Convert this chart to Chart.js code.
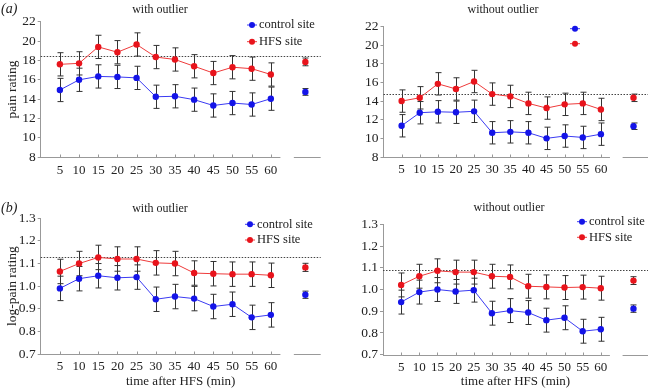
<!DOCTYPE html>
<html>
<head>
<meta charset="utf-8">
<script src="https://cdn.jsdelivr.net/npm/chart.js@4"></script>
<style>
  body { margin: 0; background: #fff; }
  #wrap { position: relative; width: 652px; height: 389px; }
  canvas { position: absolute; }
</style>
</head>
<body>
<div id="wrap">
  <canvas id="aWith" width="326" height="190" style="left:0;top:0"></canvas>
  <canvas id="aWithout" width="326" height="190" style="left:326px;top:0"></canvas>
  <canvas id="bWith" width="326" height="199" style="left:0;top:190px"></canvas>
  <canvas id="bWithout" width="326" height="199" style="left:326px;top:190px"></canvas>
</div>
<script>
// time points (min) and x tick labels
const times = [5, 10, 15, 20, 25, 30, 35, 40, 45, 50, 55, 60];
const overallX = 69; // where the overall mean sits, right of the axis break

// (a) pain rating, with outlier
const aWithCtrl = [14.95, 16.0, 16.35, 16.3, 16.2, 14.25, 14.3, 13.95, 13.35, 13.6, 13.45, 14.05];
const aWithCtrlErr = [1.2, 1.2, 1.2, 1.2, 1.2, 1.2, 1.2, 1.2, 1.2, 1.2, 1.2, 1.2];
const aWithHfs = [17.6, 17.7, 19.4, 18.85, 19.65, 18.35, 18.1, 17.4, 16.7, 17.3, 17.15, 16.55];
const aWithHfsErr = [1.2, 1.2, 1.2, 1.2, 1.2, 1.2, 1.2, 1.2, 1.2, 1.2, 1.2, 1.2];
const aWithMeans = [14.75, 17.85]; // control, HFS
const aWithMeansErr = [0.35, 0.4];

// (a) pain rating, without outlier
const aNoCtrl = [11.35, 12.75, 12.85, 12.8, 12.9, 10.6, 10.7, 10.6, 10.0, 10.25, 10.1, 10.45];
const aNoCtrlErr = [1.2, 1.2, 1.2, 1.2, 1.2, 1.2, 1.2, 1.2, 1.2, 1.2, 1.2, 1.2];
const aNoHfs = [14.0, 14.35, 15.85, 15.3, 16.1, 14.75, 14.5, 13.75, 13.25, 13.65, 13.75, 13.1];
const aNoHfsErr = [1.2, 1.2, 1.2, 1.2, 1.2, 1.2, 1.2, 1.2, 1.2, 1.2, 1.2, 1.2];
const aNoMeans = [11.3, 14.35];
const aNoMeansErr = [0.35, 0.4];

// (b) log-pain rating, with outlier
const bWithCtrl = [0.99, 1.033, 1.046, 1.037, 1.04, 0.942, 0.954, 0.945, 0.91, 0.92, 0.862, 0.873];
const bWithCtrlErr = [0.054, 0.054, 0.054, 0.054, 0.054, 0.054, 0.054, 0.054, 0.054, 0.054, 0.054, 0.054];
const bWithHfs = [1.065, 1.10, 1.127, 1.12, 1.12, 1.103, 1.10, 1.058, 1.055, 1.053, 1.053, 1.048];
const bWithHfsErr = [0.054, 0.054, 0.054, 0.054, 0.054, 0.054, 0.054, 0.054, 0.054, 0.054, 0.054, 0.054];
const bWithMeans = [0.962, 1.083];
const bWithMeansErr = [0.016, 0.018];

// (b) log-pain rating, without outlier
const bNoCtrl = [0.942, 0.988, 1.0, 0.991, 0.997, 0.891, 0.903, 0.894, 0.859, 0.87, 0.808, 0.817];
const bNoCtrlErr = [0.055, 0.055, 0.055, 0.055, 0.055, 0.055, 0.055, 0.055, 0.055, 0.055, 0.055, 0.055];
const bNoHfs = [1.021, 1.061, 1.086, 1.08, 1.08, 1.061, 1.058, 1.015, 1.012, 1.009, 1.011, 1.006];
const bNoHfsErr = [0.055, 0.055, 0.055, 0.055, 0.055, 0.055, 0.055, 0.055, 0.055, 0.055, 0.055, 0.055];
const bNoMeans = [0.912, 1.041];
const bNoMeansErr = [0.017, 0.018];

// dotted reference lines
const refLines = [18.45, 14.8, 1.13, 1.092];

const seriesNames = ["control site", "HFS site"];
const BLUE = "#1414e8", BLUE_LINE = "#3a3af2";
const RED = "#e8141c", RED_LINE = "#ee3a3a";
const SERIF = "'Liberation Serif', 'DejaVu Serif', serif";

Chart.defaults.font.family = SERIF;
Chart.defaults.color = "#222";

// error bars, dotted line, broken x axis, titles and legend
const decor = {
  id: "decor",
  beforeDatasetsDraw(chart, args, o) {
    const ctx = chart.ctx, ya = chart.scales.y, area = chart.chartArea;
    ctx.save();
    // dotted reference line
    ctx.strokeStyle = "#444";
    ctx.lineWidth = 1;
    ctx.setLineDash([1.5, 1.5]);
    const ry = Math.round(ya.getPixelForValue(o.ref)) + 0.5;
    ctx.beginPath();
    ctx.moveTo(area.left, ry);
    ctx.lineTo(area.right, ry);
    ctx.stroke();
    ctx.setLineDash([]);
    // error bars
    ctx.strokeStyle = "#333";
    chart.data.datasets.forEach((ds, di) => {
      const meta = chart.getDatasetMeta(di);
      meta.data.forEach((pt, i) => {
        const v = ds.data[i].y, e = ds.err[i];
        const x = Math.round(pt.x) + 0.5;
        const y1 = ya.getPixelForValue(v + e), y2 = ya.getPixelForValue(v - e);
        ctx.beginPath();
        ctx.moveTo(x, y1); ctx.lineTo(x, y2);
        ctx.moveTo(x - 3, y1); ctx.lineTo(x + 3, y1);
        ctx.moveTo(x - 3, y2); ctx.lineTo(x + 3, y2);
        ctx.stroke();
      });
    });
    ctx.restore();
  },
  afterDraw(chart, args, o) {
    const ctx = chart.ctx, xa = chart.scales.x, area = chart.chartArea;
    ctx.save();
    // x axis with a break before the overall mean
    const yb = Math.round(area.bottom) + 0.5;
    ctx.strokeStyle = "#999";
    ctx.lineWidth = 1;
    ctx.beginPath();
    ctx.moveTo(area.left, yb); ctx.lineTo(xa.getPixelForValue(62.5), yb);
    ctx.moveTo(xa.getPixelForValue(66), yb); ctx.lineTo(area.right, yb);
    times.forEach(t => {
      const x = Math.round(xa.getPixelForValue(t)) + 0.5;
      ctx.moveTo(x, yb); ctx.lineTo(x, yb - 3);
    });
    ctx.stroke();
    // panel title and letter
    ctx.fillStyle = "#222";
    ctx.textBaseline = "middle";
    ctx.font = "12px " + SERIF;
    ctx.textAlign = "center";
    ctx.fillText(o.title, o.titleX, o.titleY);
    if (o.letter) {
      ctx.textAlign = "left";
      ctx.font = "italic 14px " + SERIF;
      ctx.fillText(o.letter, 1, o.titleY);
    }
    // legend
    const cols = [[BLUE_LINE, BLUE], [RED_LINE, RED]];
    o.legendY.forEach((ly, i) => {
      ctx.strokeStyle = cols[i][0];
      ctx.beginPath();
      ctx.moveTo(o.legendX, ly); ctx.lineTo(o.legendX + 10, ly);
      ctx.stroke();
      ctx.fillStyle = cols[i][1];
      ctx.beginPath();
      ctx.arc(o.legendX + 5, ly, 3, 0, Math.PI * 2);
      ctx.fill();
      if (o.legendText) {
        ctx.fillStyle = "#222";
        ctx.textAlign = "left";
        ctx.font = "12.5px " + SERIF;
        ctx.fillText(seriesNames[i], o.legendX + 12, ly);
      }
    });
    ctx.restore();
  }
};

function pts(values) {
  return values.map((v, i) => ({ x: times[i], y: v }));
}

function makePanel(id, p) {
  const lineSet = (label, vals, errs, col, lineCol) => ({
    label: label, data: pts(vals), err: errs,
    borderColor: lineCol, backgroundColor: col, pointBackgroundColor: col,
    pointBorderWidth: 0, pointRadius: 3.2, borderWidth: 1
  });
  const meanSet = (label, v, e, col) => ({
    label: label, data: [{ x: overallX, y: v }], err: [e], showLine: false,
    backgroundColor: col, pointBackgroundColor: col, pointBorderWidth: 0, pointRadius: 3.2
  });
  new Chart(document.getElementById(id), {
    type: "line",
    data: {
      datasets: [
        lineSet(seriesNames[0], p.ctrl, p.ctrlErr, BLUE, BLUE_LINE),
        lineSet(seriesNames[1], p.hfs, p.hfsErr, RED, RED_LINE),
        meanSet(seriesNames[0], p.means[0], p.meansErr[0], BLUE),
        meanSet(seriesNames[1], p.means[1], p.meansErr[1], RED)
      ]
    },
    options: {
      responsive: false,
      animation: false,
      layout: { padding: { top: p.padTop, right: p.padRight, left: 0, bottom: 0 } },
      plugins: {
        legend: { display: false },
        tooltip: { enabled: false },
        decor: p.decor
      },
      scales: {
        x: {
          type: "linear", min: 0, max: 73,
          afterBuildTicks: s => { s.ticks = times.map(v => ({ value: v })); },
          afterFit: s => { s.height = p.xH; },
          grid: { display: false, drawTicks: false, tickLength: 0 },
          border: { display: false },
          ticks: { font: { size: 13 }, color: "#222", padding: 5, maxRotation: 0, autoSkip: false },
          title: {
            display: !!p.xTitle, text: p.xTitle || "",
            font: { size: 13 }, color: "#222", padding: { top: 0, bottom: 0 }
          }
        },
        y: {
          min: p.yMin, max: p.yMax,
          afterFit: s => { s.width = p.yW; },
          ticks: {
            stepSize: p.yStep, font: { size: 13.5 }, color: "#222", padding: 2, autoSkip: false,
            callback: v => p.yDigits ? v.toFixed(p.yDigits) : v
          },
          grid: { drawOnChartArea: false, tickLength: 3, color: "#999" },
          border: { color: "#999" },
          title: {
            display: !!p.yTitle, text: p.yTitle || "",
            font: { size: 13.5 }, color: "#222", padding: { top: 4, bottom: 0 }
          }
        }
      }
    },
    plugins: [decor]
  });
}

makePanel("aWith", {
  ctrl: aWithCtrl, ctrlErr: aWithCtrlErr, hfs: aWithHfs, hfsErr: aWithHfsErr,
  means: aWithMeans, meansErr: aWithMeansErr,
  yMin: 8, yMax: 22, yStep: 2, yDigits: 0, yTitle: "pain rating",
  yW: 40.7, padTop: 21.7, padRight: 5.3, xH: 32.7,
  decor: { ref: refLines[0], title: "with outlier", titleX: 160, titleY: 9.5, letter: "(a)",
           legendX: 247, legendY: [25, 41.7], legendText: true }
});
makePanel("aWithout", {
  ctrl: aNoCtrl, ctrlErr: aNoCtrlErr, hfs: aNoHfs, hfsErr: aNoHfsErr,
  means: aNoMeans, meansErr: aNoMeansErr,
  yMin: 8, yMax: 22, yStep: 2, yDigits: 0,
  yW: 57.5, padTop: 26.5, padRight: 0, xH: 33,
  decor: { ref: refLines[1], title: "without outlier", titleX: 177, titleY: 9.5,
           legendX: 244, legendY: [28.7, 43.7], legendText: false }
});
makePanel("bWith", {
  ctrl: bWithCtrl, ctrlErr: bWithCtrlErr, hfs: bWithHfs, hfsErr: bWithHfsErr,
  means: bWithMeans, meansErr: bWithMeansErr,
  yMin: 0.7, yMax: 1.3, yStep: 0.1, yDigits: 1, yTitle: "log-pain rating",
  xTitle: "time after HFS (min)",
  yW: 40.7, padTop: 28.3, padRight: 5.3, xH: 35,
  decor: { ref: refLines[2], title: "with outlier", titleX: 160, titleY: 18.5, letter: "(b)",
           legendX: 245, legendY: [34.3, 50], legendText: true }
});
makePanel("bWithout", {
  ctrl: bNoCtrl, ctrlErr: bNoCtrlErr, hfs: bNoHfs, hfsErr: bNoHfsErr,
  means: bNoMeans, meansErr: bNoMeansErr,
  yMin: 0.7, yMax: 1.3, yStep: 0.1, yDigits: 1,
  xTitle: "time after HFS (min)",
  yW: 57, padTop: 34.3, padRight: 0, xH: 34.3,
  decor: { ref: refLines[3], title: "without outlier", titleX: 183, titleY: 17.5,
           legendX: 251, legendY: [31.7, 47.3], legendText: true }
});
</script>
</body>
</html>
